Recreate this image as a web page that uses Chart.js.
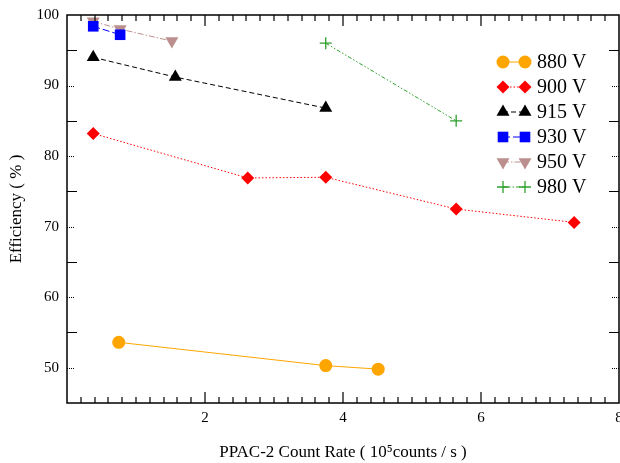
<!DOCTYPE html>
<html>
<head>
<meta charset="utf-8">
<script src="https://cdn.jsdelivr.net/npm/chart.js@4"></script>
<style>
  html, body { margin: 0; padding: 0; background: #fff; }
  #wrap { width: 620px; height: 463px; }
</style>
</head>
<body>
<div id="wrap"><canvas id="effChart" width="620" height="463"></canvas></div>
<script>
// count rate in 10^5 counts/s, efficiency in %
const x880 = [0.75, 3.75, 4.51];
const y880 = [53.6, 50.3, 49.8];
const x900 = [0.38, 2.62, 3.75, 5.64, 7.35];
const y900 = [83.2, 76.9, 77.0, 72.5, 70.6];
const x915 = [0.38, 1.57, 3.75];
const y915 = [94.0, 91.2, 86.8];
const x930 = [0.38, 0.77];
const y930 = [98.4, 97.2];
const x950 = [0.38, 0.77, 1.52];
const y950 = [99.1, 98.0, 96.3];
const x980 = [3.75, 5.64];
const y980 = [96.0, 85.0];

const labels = ['880 V', '900 V', '915 V', '930 V', '950 V', '980 V'];
const yTickLabels = [50, 60, 70, 80, 90, 100];
const xTickLabels = [2, 4, 6, 8];

const SERIF = '"Liberation Serif", "DejaVu Serif", serif';

function pts(xs, ys) {
  return xs.map((x, i) => ({ x, y: ys[i] }));
}

const styles = [
  { color: '#ffa500', dash: [], point: 'circle', r: 6.5, rot: 0 },
  { color: '#ff0000', dash: [1.5, 2], point: 'rectRot', r: 6.5, rot: 0 },
  { color: '#000000', dash: [5, 3], point: 'triangle', r: 7.5, rot: 0 },
  { color: '#0000ff', dash: [7, 3], point: 'rect', r: 7.5, rot: 0 },
  { color: '#bc8f8f', dash: [6, 2, 1.5, 2], point: 'triangle', r: 7.5, rot: 180 },
  { color: '#2ca02c', dash: [4, 2, 1.5, 2, 1.5, 2], point: 'cross', r: 6, rot: 0 }
];

const series = [
  pts(x880, y880), pts(x900, y900), pts(x915, y915),
  pts(x930, y930), pts(x950, y950), pts(x980, y980)
];

const datasets = series.map((data, i) => ({
  label: labels[i],
  data,
  borderColor: styles[i].color,
  backgroundColor: styles[i].color,
  borderWidth: 1,
  borderDash: styles[i].dash,
  pointStyle: styles[i].point,
  pointRadius: styles[i].r,
  pointRotation: styles[i].rot,
  pointBorderWidth: styles[i].point === 'cross' ? 1.3 : 0,
  pointBorderColor: styles[i].color,
  pointBackgroundColor: styles[i].color,
  showLine: true,
  fill: false
}));

// inward tick marks on all four sides + the box
const frameTicks = {
  id: 'frameTicks',
  afterDatasetsDraw(chart) {
    const { ctx, chartArea: a, scales } = chart;
    const xs = scales.x, ys = scales.y;
    ctx.save();
    ctx.strokeStyle = '#000';
    ctx.lineWidth = 1.2;
    ctx.setLineDash([]);
    for (let k = 1; k < 40; k++) {
      const px = Math.round(xs.getPixelForValue(k * 0.2));
      const len = k % 10 === 0 ? 11 : 6;
      ctx.beginPath();
      ctx.moveTo(px, a.bottom);
      ctx.lineTo(px, a.bottom - len);
      ctx.moveTo(px, a.top);
      ctx.lineTo(px, a.top + len);
      ctx.stroke();
    }
    ctx.lineWidth = 1;
    for (let v = 50; v < 100; v += 5) {
      const py = Math.round(ys.getPixelForValue(v)) + 0.5;
      const major = v % 10 === 0;
      const len = major ? 8 : 10;
      ctx.setLineDash(major ? [1, 1] : []);
      ctx.beginPath();
      ctx.moveTo(a.left, py); ctx.lineTo(a.left + len, py);
      ctx.moveTo(a.right, py); ctx.lineTo(a.right - len, py);
      ctx.stroke();
    }
    ctx.setLineDash([]);
    ctx.lineWidth = 1.5;
    ctx.strokeRect(a.left, a.top, a.right - a.left, a.bottom - a.top);
    ctx.restore();
  }
};

// legend drawn inside the plot, upper right
const innerLegend = {
  id: 'innerLegend',
  afterDraw(chart) {
    const { ctx } = chart;
    ctx.save();
    const x0 = 503, x1 = 525, tx = 537;
    chart.data.datasets.forEach((ds, i) => {
      const y = 62 + i * 25;
      ctx.strokeStyle = ds.borderColor;
      ctx.lineWidth = 1;
      ctx.setLineDash(ds.borderDash);
      ctx.beginPath();
      ctx.moveTo(x0, y); ctx.lineTo(x1, y);
      ctx.stroke();
      ctx.setLineDash([]);
      const opts = {
        pointStyle: ds.pointStyle, radius: ds.pointRadius,
        rotation: ds.pointRotation, borderWidth: ds.pointBorderWidth
      };
      ctx.fillStyle = ds.pointBackgroundColor;
      ctx.strokeStyle = ds.pointBorderColor;
      ctx.lineWidth = ds.pointBorderWidth || 1;
      Chart.helpers.drawPoint(ctx, opts, x0, y);
      Chart.helpers.drawPoint(ctx, opts, x1, y);
      ctx.fillStyle = '#000';
      ctx.font = '20px ' + SERIF;
      ctx.textBaseline = 'middle';
      ctx.fillText(ds.label, tx, y + 1);
    });
    ctx.restore();
  }
};

new Chart(document.getElementById('effChart'), {
  type: 'scatter',
  data: { datasets },
  options: {
    responsive: false,
    animation: false,
    layout: { autoPadding: false, padding: { left: 0, right: 1, top: 15, bottom: 0 } },
    plugins: {
      legend: { display: false },
      tooltip: { enabled: false }
    },
    scales: {
      x: {
        type: 'linear',
        min: 0,
        max: 8,
        grid: { display: false, drawTicks: false },
        border: { display: false },
        ticks: {
          stepSize: 2,
          padding: 6,
          color: '#000',
          font: { family: SERIF, size: 15 },
          maxRotation: 0,
          callback: v => xTickLabels.includes(v) ? String(v) : ''
        },
        title: {
          display: true,
          text: 'PPAC-2 Count Rate ( 10\u2075counts / s )',
          color: '#000',
          font: { family: SERIF, size: 17 },
          padding: { top: 16, bottom: 0 }
        },
        afterFit(scale) {
          scale.height = 60;
          scale.paddingLeft = 0;
          scale.paddingRight = 0;
        }
      },
      y: {
        type: 'linear',
        min: 45,
        max: 100,
        grid: { display: false, drawTicks: false },
        border: { display: false },
        ticks: {
          stepSize: 10,
          padding: 8,
          color: '#000',
          font: { family: SERIF, size: 15 },
          callback: v => yTickLabels.includes(v) ? String(v) : ''
        },
        title: {
          display: true,
          text: 'Efficiency ( % )',
          color: '#000',
          font: { family: SERIF, size: 17 },
          padding: { top: 6, bottom: 0 }
        },
        afterFit(scale) {
          scale.width = 67;
          scale.paddingTop = 0;
          scale.paddingBottom = 0;
        }
      }
    }
  },
  plugins: [frameTicks, innerLegend]
});
</script>
</body>
</html>
